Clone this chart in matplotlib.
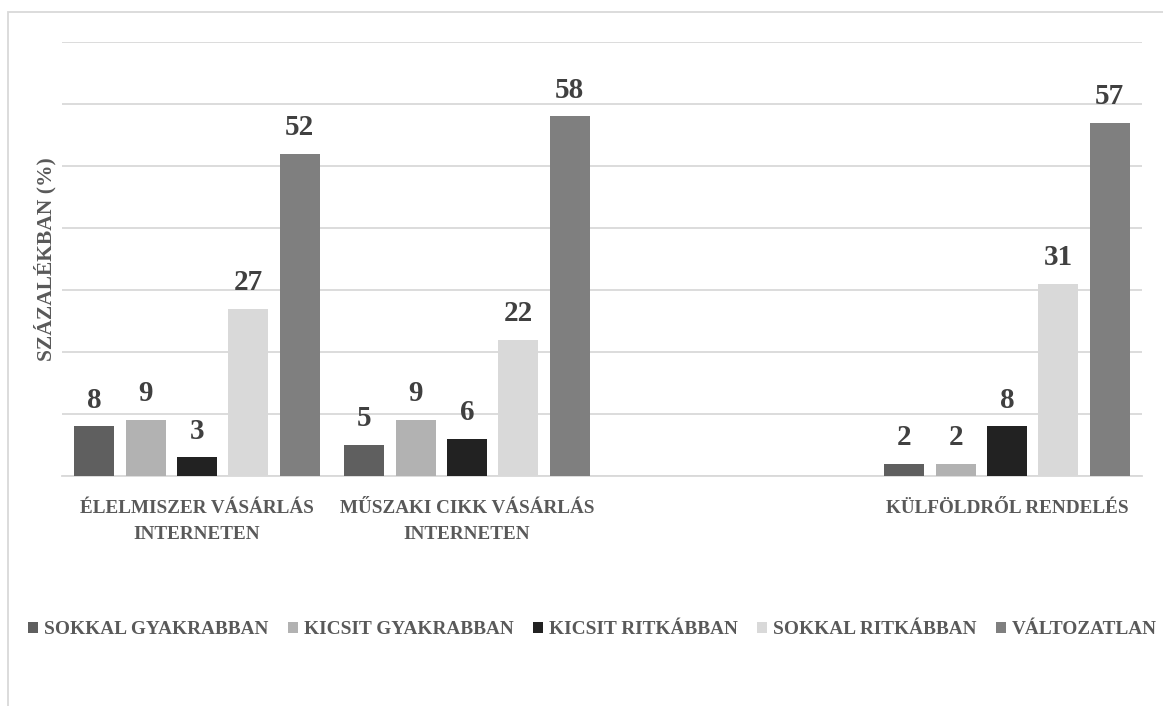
import matplotlib
matplotlib.use("Agg")
import matplotlib.pyplot as plt
from matplotlib.patches import Rectangle

# adatok
kategoriak = ["ÉLELMISZER VÁSÁRLÁS\nINTERNETEN",
              "MŰSZAKI CIKK VÁSÁRLÁS\nINTERNETEN",
              "KÜLFÖLDRŐL RENDELÉS"]
sorozatok = ["SOKKAL GYAKRABBAN", "KICSIT GYAKRABBAN", "KICSIT RITKÁBBAN",
             "SOKKAL RITKÁBBAN", "VÁLTOZATLAN"]
sokkal_gyakrabban = [8, 5, 2]
kicsit_gyakrabban = [9, 9, 2]
kicsit_ritkabban = [3, 6, 8]
sokkal_ritkabban = [27, 22, 31]
valtozatlan = [52, 58, 57]

ertekek = [sokkal_gyakrabban, kicsit_gyakrabban, kicsit_ritkabban,
           sokkal_ritkabban, valtozatlan]
szinek = ["#5f5f5f", "#b2b2b2", "#222222", "#d9d9d9", "#7f7f7f"]

# a harmadik kategóriahely üresen marad
kategoria_hely = [0, 1, 3]
resz = 0.19          # egy oszlop helye a csoportban
oszlop_szel = 0.148  # oszlopszélesség

plt.rcParams['font.family'] = ['Liberation Serif', 'DejaVu Serif']
plt.rcParams['font.weight'] = 'bold'

fig = plt.figure(figsize=(11.63, 7.06), dpi=100)
W, H = 1163, 706

# külső keret
fig.patches.append(Rectangle((8 / W, -0.1), 1.2, 1 - 12 / H + 0.1,
                             transform=fig.transFigure, fill=False,
                             edgecolor="#d9d9d9", linewidth=1.3))

ax = fig.add_axes([62 / W, (H - 476) / H, (1142 - 62) / W, (476 - 42) / H])

for i, (nev, adat, szin) in enumerate(zip(sorozatok, ertekek, szinek)):
    xs = [cx + (i - 2) * resz for cx in kategoria_hely]
    bars = ax.bar(xs, adat, width=oszlop_szel, color=szin, label=nev,
                  zorder=3)
    for b, v in zip(bars, adat):
        ax.annotate(str(v), (b.get_x() + b.get_width() / 2, v),
                    xytext=(0, 13.5), textcoords="offset points",
                    ha="center", va="baseline", fontsize=21,
                    fontweight="bold", color="#404040")

ax.set_ylim(0, 70)
ax.set_xlim(-0.5, 3.5)
ax.set_yticks(range(0, 71, 10))
ax.set_yticklabels([])
ax.yaxis.grid(True, color="#d9d9d9", linewidth=1.3, zorder=0)
ax.tick_params(axis="both", length=0)
ax.set_xticks(kategoria_hely)
ax.set_xticklabels(kategoriak, fontsize=13.8, fontweight="bold",
                   color="#595959", linespacing=1.7)
ax.tick_params(axis="x", pad=17)
for s in ["top", "right", "left"]:
    ax.spines[s].set_visible(False)
ax.spines["bottom"].set_color("#d9d9d9")
ax.spines["bottom"].set_linewidth(1.3)

fig.text(45 / W, 1 - 259 / H, "SZÁZALÉKBAN (%)", rotation=90, ha="center",
         va="center", fontsize=15.5, fontweight="bold", color="#595959")

fig.legend(loc="center left", bbox_to_anchor=(28 / W, 1 - 630 / H), ncol=5,
           frameon=False, borderpad=0, borderaxespad=0,
           handlelength=0.52, handleheight=0.52,
           handletextpad=0.31, columnspacing=1.0,
           prop={"size": 13.9, "weight": "bold"}, labelcolor="#595959")

fig.savefig("out.png", dpi=100)
